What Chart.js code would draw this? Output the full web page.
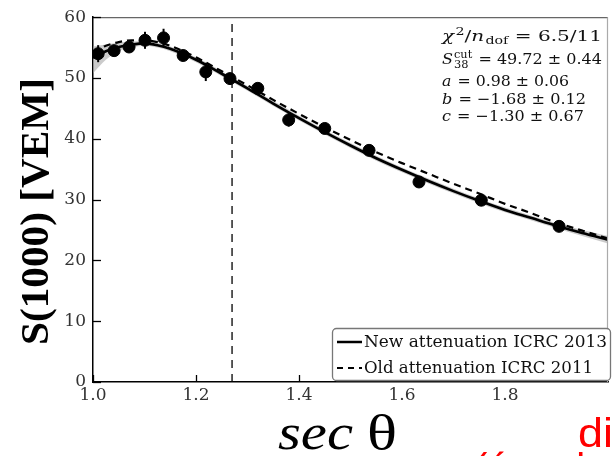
<!DOCTYPE html>
<html><head><meta charset="utf-8">
<script src="https://cdn.jsdelivr.net/npm/chart.js@4.4.1/dist/chart.umd.min.js"></script>
<style>html,body{margin:0;padding:0;background:#fff;} canvas{display:block;}</style>
</head><body>
<canvas id="c" width="615" height="456"></canvas>
<script>
// ---- data ----
const secTheta = [1.010,1.041,1.070,1.101,1.137,1.175,1.219,1.266,1.320,1.380,1.450,1.536,1.633,1.754,1.905];
const s1000    = [54.0, 54.5, 55.1, 56.2, 56.6, 53.7, 51.0, 49.9, 48.3, 43.1, 41.7, 38.1, 32.9, 29.9, 25.6];
const s1000Err = [1.4,  0.9,  0.8,  1.4,  1.5,  0.6,  1.5,  0.6,  0.6,  1.1,  0.5,  0.5,  0.5,  0.5,  0.5];
const fitSec   = [1.00,1.025,1.05,1.075,1.10,1.125,1.15,1.20,1.25,1.30,1.35,1.40,1.45,1.50,1.55,1.60,1.65,1.70,1.75,1.80,1.85,1.90,1.95,2.00];
const newAtt   = [53.3,54.4,55.1,55.5,55.7,55.4,54.8,53.0,50.7,48.3,45.8,43.4,41.1,38.9,36.8,34.9,33.1,31.4,29.8,28.3,27.0,25.7,24.5,23.4];
const oldAtt   = [54.3,55.3,55.9,56.2,56.2,55.9,55.3,53.4,51.1,48.8,46.4,44.1,41.9,39.8,37.8,36.0,34.3,32.6,31.0,29.3,27.8,26.2,24.9,23.6];
const bandUp   = [55.2,55.5,55.8,56.0,56.1,55.8,55.2,53.4,51.1,48.7,46.2,43.8,41.5,39.3,37.2,35.3,33.5,31.8,30.2,28.7,27.4,26.1,25.0,24.0];
const bandLow  = [50.8,53.0,54.4,55.0,55.3,55.0,54.4,52.6,50.3,47.9,45.4,43.0,40.7,38.5,36.4,34.5,32.7,31.0,29.4,27.9,26.6,25.3,24.0,22.8];
const cutSec   = 1.27;
const xTicks   = [1.0,1.2,1.4,1.6,1.8];
const yTicks   = [0,10,20,30,40,50,60];
const legendLabels = ['New attenuation ICRC 2013','Old attenuation ICRC 2011'];
const fitLines = [
  [{t:'χ',s:'i'},{t:'2',s:'sup'},{t:'/',s:'r'},{t:'n',s:'i'},{t:'dof',s:'sub'},{t:' = 6.5/11',s:'r'}],
  [{t:'S',s:'i'},{t:'cut',s:'supsub',t2:'38'},{t:' = 49.72 ± 0.44',s:'r'}],
  [{t:'a',s:'i'},{t:' = 0.98 ± 0.06',s:'r'}],
  [{t:'b',s:'i'},{t:' = −1.68 ± 0.12',s:'r'}],
  [{t:'c',s:'i'},{t:' = −1.30 ± 0.67',s:'r'}]
];

const pts = (xs, ys) => xs.map((x,i)=>({x:x, y:ys[i]}));

function fitText(ctx, text, font, x, y, width){
  ctx.save(); ctx.font = font;
  const w = ctx.measureText(text).width;
  ctx.translate(x, y); ctx.scale(width / w, 1);
  ctx.fillText(text, 0, 0); ctx.restore();
}

const deco = {
  id:'deco',
  afterDatasetsDraw(chart){
    const {ctx, scales:{x, y}} = chart;
    ctx.save();
    ctx.strokeStyle = '#000'; ctx.lineWidth = 2;
    secTheta.forEach((sx,i)=>{
      const px = x.getPixelForValue(sx);
      ctx.beginPath();
      ctx.moveTo(px, y.getPixelForValue(s1000[i]-s1000Err[i]));
      ctx.lineTo(px, y.getPixelForValue(s1000[i]+s1000Err[i]));
      ctx.stroke();
    });
    ctx.restore();
  },
  afterDraw(chart){
    const {ctx, chartArea:a, scales:{x, y}} = chart;
    ctx.save();
    // frame top / right
    ctx.strokeStyle = '#666'; ctx.lineWidth = 1.2;
    ctx.beginPath(); ctx.moveTo(a.left, a.top+0.5); ctx.lineTo(a.right, a.top+0.5); ctx.stroke();
    ctx.strokeStyle = '#aaa';
    ctx.beginPath(); ctx.moveTo(a.right-0.5, a.top); ctx.lineTo(a.right-0.5, a.bottom); ctx.stroke();
    // inward ticks
    ctx.strokeStyle = '#000'; ctx.lineWidth = 1.3;
    yTicks.forEach(v=>{ const py = Math.round(y.getPixelForValue(v))+0.5;
      ctx.beginPath(); ctx.moveTo(a.left, py); ctx.lineTo(a.left+8, py); ctx.stroke(); });
    xTicks.forEach(v=>{ const px = Math.round(x.getPixelForValue(v))+0.5;
      ctx.beginPath(); ctx.moveTo(px, a.bottom); ctx.lineTo(px, a.bottom-7); ctx.stroke(); });

    // legend box
    const lx=332, ly=328, lw=278, lh=52;
    ctx.fillStyle='#fff'; ctx.strokeStyle='#777'; ctx.lineWidth=1.3;
    ctx.beginPath(); ctx.roundRect(lx+0.5, ly+0.5, lw, lh, 4); ctx.fill(); ctx.stroke();
    ctx.strokeStyle='#000';
    ctx.lineWidth=2.5; ctx.setLineDash([]);
    ctx.beginPath(); ctx.moveTo(337,342); ctx.lineTo(362,342); ctx.stroke();
    ctx.lineWidth=2.2; ctx.setLineDash([6,5]);
    ctx.beginPath(); ctx.moveTo(337,368); ctx.lineTo(362,368); ctx.stroke();
    ctx.setLineDash([]);
    ctx.fillStyle='#111'; ctx.textBaseline='alphabetic'; ctx.textAlign='left';
    fitText(ctx, legendLabels[0], "16px 'DejaVu Serif'", 364, 347, 243);
    fitText(ctx, legendLabels[1], "16px 'DejaVu Serif'", 364, 373, 229);

    // fit parameters text
    const baseY=[41,64,86,103.5,121], widths=[160,160,127,144,142];
    const F={i:"italic 15.5px 'DejaVu Serif'", r:"15.5px 'DejaVu Serif'", s:"11px 'DejaVu Serif'"};
    fitLines.forEach((parts,li)=>{
      let tot=0;
      parts.forEach(p=>{
        if(p.s==='supsub'){ ctx.font=F.s; tot+=Math.max(ctx.measureText(p.t).width, ctx.measureText(p.t2).width)+1; }
        else { ctx.font = (p.s==='sup'||p.s==='sub')?F.s:F[p.s]; tot+=ctx.measureText(p.t).width+(p.s==='i'?1:0); }
      });
      ctx.save(); ctx.translate(442, baseY[li]); ctx.scale(widths[li]/tot,1);
      let cx=0;
      parts.forEach(p=>{
        if(p.s==='supsub'){ ctx.font=F.s; ctx.fillText(p.t,cx,-6); ctx.fillText(p.t2,cx,4);
          cx+=Math.max(ctx.measureText(p.t).width, ctx.measureText(p.t2).width)+1; }
        else if(p.s==='sup'){ ctx.font=F.s; ctx.fillText(p.t,cx,-6); cx+=ctx.measureText(p.t).width; }
        else if(p.s==='sub'){ ctx.font=F.s; ctx.fillText(p.t,cx,3); cx+=ctx.measureText(p.t).width; }
        else { ctx.font=F[p.s]; ctx.fillText(p.t,cx,0); cx+=ctx.measureText(p.t).width+(p.s==='i'?1:0); }
      });
      ctx.restore();
    });

    // axis titles
    ctx.fillStyle='#000';
    ctx.save(); ctx.translate(48, 345); ctx.rotate(-Math.PI/2);
    fitText(ctx, 'S(1000) [VEM]', "bold 40px 'Liberation Serif'", 0, 0, 267);
    ctx.restore();
    fitText(ctx, 'sec', "italic 50px 'Liberation Serif'", 278, 449, 75);
    fitText(ctx, 'θ', "50px 'Liberation Serif'", 367, 450, 30);

    // red overlay text (from the source slide)
    ctx.fillStyle='#ff0000';
    fitText(ctx, 'di', "40px 'Liberation Sans'", 578, 447, 35);
    ctx.font="40px 'Liberation Sans'";
    ctx.fillText('(ángulo cenital)', 474, 482);
    ctx.restore();
  }
};

new Chart(document.getElementById('c').getContext('2d'), {
  type:'scatter',
  data:{datasets:[
    {label:'data', data:pts(secTheta,s1000), showLine:false, pointRadius:6, pointBackgroundColor:'#000', pointBorderColor:'#000', pointBorderWidth:1, order:0},
    {label:legendLabels[0], data:pts(fitSec,newAtt), showLine:true, borderColor:'#000', borderWidth:2.6, pointRadius:0, cubicInterpolationMode:'monotone', order:1},
    {label:legendLabels[1], data:pts(fitSec,oldAtt), showLine:true, borderColor:'#000', borderWidth:2.2, borderDash:[7,5], pointRadius:0, cubicInterpolationMode:'monotone', order:2},
    {label:'cut', data:[{x:cutSec,y:0},{x:cutSec,y:60}], showLine:true, borderColor:'#000', borderWidth:1.3, borderDash:[8,6], pointRadius:0, order:3},
    {label:'bandUp', data:pts(fitSec,bandUp), showLine:true, borderWidth:0, borderColor:'rgba(0,0,0,0)', pointRadius:0, fill:'+1', backgroundColor:'rgba(160,160,160,0.55)', cubicInterpolationMode:'monotone', order:4},
    {label:'bandLow', data:pts(fitSec,bandLow), showLine:true, borderWidth:0, borderColor:'rgba(0,0,0,0)', pointRadius:0, fill:false, cubicInterpolationMode:'monotone', order:5}
  ]},
  options:{
    responsive:false, animation:false, devicePixelRatio:1,
    layout:{padding:{top:15, right:1, left:0, bottom:0}},
    plugins:{legend:{display:false}, tooltip:{enabled:false}},
    scales:{
      x:{type:'linear', min:1, max:2,
         afterFit:s=>{s.height=74;},
         afterBuildTicks:s=>{s.ticks=xTicks.map(v=>({value:v}));},
         ticks:{font:{family:'DejaVu Serif', size:17}, color:'#333', padding:3, maxRotation:0, autoSkip:false, callback:v=>Number(v).toFixed(1)},
         grid:{display:false, drawTicks:false},
         border:{display:true, color:'#000', width:1.5}},
      y:{type:'linear', min:0, max:60,
         afterFit:s=>{s.width=93;},
         afterBuildTicks:s=>{s.ticks=yTicks.map(v=>({value:v}));},
         ticks:{font:{family:'DejaVu Serif', size:17}, color:'#333', padding:7, callback:v=>String(v)},
         grid:{display:false, drawTicks:false},
         border:{display:true, color:'#000', width:1.5}}
    }
  },
  plugins:[deco]
});
</script>
</body></html>
